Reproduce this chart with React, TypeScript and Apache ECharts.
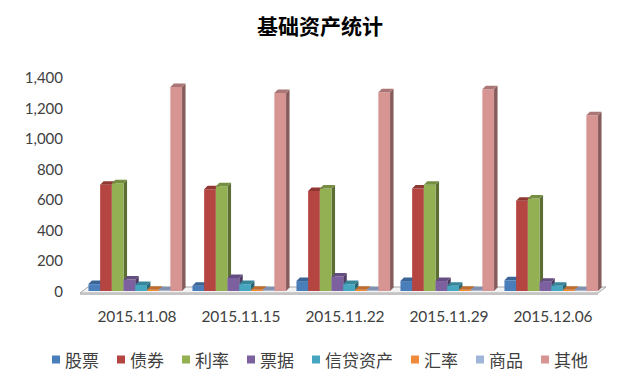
import React, { useEffect, useRef } from "react";
import * as echarts from "echarts";

const categories = ["2015.11.08", "2015.11.15", "2015.11.22", "2015.11.29", "2015.12.06"];
const seriesNames = ["股票", "债券", "利率", "票据", "信贷资产", "汇率", "商品", "其他"];
const gupiao = [45, 35, 65, 65, 70];
const zhaiquan = [695, 665, 655, 670, 590];
const lilv = [705, 685, 670, 695, 605];
const piaoju = [75, 85, 95, 65, 60];
const xindai = [40, 45, 45, 35, 35];
const huilv = [8, 8, 8, 8, 8];
const shangpin = [5, 5, 5, 5, 5];
const qita = [1335, 1295, 1300, 1320, 1150];
const yTicks = { min: 0, max: 1400, interval: 200 };

const seriesValues = [gupiao, zhaiquan, lilv, piaoju, xindai, huilv, shangpin, qita];
const colors = ["#4A7EBB", "#B44540", "#93B152", "#7D60A0", "#46A6C0", "#F08A3A", "#A0B6DB", "#D69593"];

function darken(hex: string, f: number) {
  const h = hex.replace("#", "");
  const r = Math.round(parseInt(h.slice(0, 2), 16) * f);
  const g = Math.round(parseInt(h.slice(2, 4), 16) * f);
  const b = Math.round(parseInt(h.slice(4, 6), 16) * f);
  return `rgb(${r},${g},${b})`;
}

export default function App() {
  const ref = useRef<HTMLDivElement>(null);
  useEffect(() => {
    if (!ref.current) return;
    const chart = echarts.init(ref.current, null, { renderer: "svg" });
    const n = seriesNames.length;
    const depth = 3.5;
    const series = seriesNames.map((name, si) => ({
      type: "custom",
      name,
      itemStyle: { color: colors[si] },
      z: 2 + si,
      data: seriesValues[si].map((v, ci) => [ci, v]),
      renderItem: (params: any, api: any) => {
        const ci = api.value(0);
        const v = api.value(1);
        const top = api.coord([ci, v]);
        const base = api.coord([ci, 0]);
        const band = api.size([1, 0])[0];
        const groupW = band * 0.9;
        const slot = groupW / n;
        const x0 = top[0] - groupW / 2 + si * slot - depth / 2;
        const w = slot;
        const yt = top[1];
        const yb = base[1];
        const c = colors[si];
        const topC = darken(c, 0.8);
        const sideC = darken(c, 0.62);
        return {
          type: "group",
          children: [
            {
              type: "polygon",
              shape: { points: [[x0 + w, yt], [x0 + w + depth, yt - depth], [x0 + w + depth, yb - depth], [x0 + w, yb]] },
              style: { fill: sideC },
            },
            {
              type: "rect",
              shape: { x: x0, y: yt, width: w, height: Math.max(yb - yt, 0) },
              style: { fill: c },
            },
            {
              type: "polygon",
              shape: { points: [[x0, yt], [x0 + depth, yt - depth], [x0 + w + depth, yt - depth], [x0 + w, yt]] },
              style: { fill: topC },
            },
          ],
        };
      },
    }));
    chart.setOption({
      animation: false,
      backgroundColor: "#ffffff",
      title: {
        text: "基础资产统计",
        left: "center",
        top: 9,
        textStyle: { fontFamily: "Noto Sans CJK SC", fontSize: 21, fontWeight: "bold", color: "#000000" },
      },
      grid: { left: 85, right: 35, top: 77, bottom: 93 },
      legend: {
        data: seriesNames,
        top: 346,
        left: "center",
        icon: "rect",
        itemWidth: 8,
        itemHeight: 8,
        itemGap: 18,
        textStyle: { fontFamily: "Noto Sans CJK SC", fontSize: 17, color: "#404040" },
      },
      xAxis: {
        type: "category",
        data: categories,
        axisLine: { show: false },
        axisTick: { show: false },
        axisLabel: { margin: 17, fontFamily: "Lato", fontSize: 15.5, color: "#404040" },
      },
      yAxis: {
        type: "value",
        min: yTicks.min,
        max: yTicks.max,
        interval: yTicks.interval,
        axisLine: { show: false },
        axisTick: { show: false },
        splitLine: { show: false },
        axisLabel: {
          margin: 22,
          fontFamily: "Lato",
          fontSize: 15,
          color: "#404040",
          formatter: (v: number) => v.toLocaleString("en-US"),
        },
      },
      graphic: [
        {
          type: "polygon",
          z: 0,
          shape: { points: [[80, 293], [598, 293], [606, 287], [88, 287]] },
          style: { fill: "#F2F2F2", stroke: "#A6A6A6", lineWidth: 1 },
        },
        {
          type: "rect",
          z: 0,
          shape: { x: 80, y: 293, width: 518, height: 2 },
          style: { fill: "#C4C4C4" },
        },
      ],
      series,
    });
    return () => chart.dispose();
  }, []);
  return (
    <div
      ref={ref}
      style={{ position: "absolute", left: 0, top: 0, width: 640, height: 384 }}
    />
  );
}
